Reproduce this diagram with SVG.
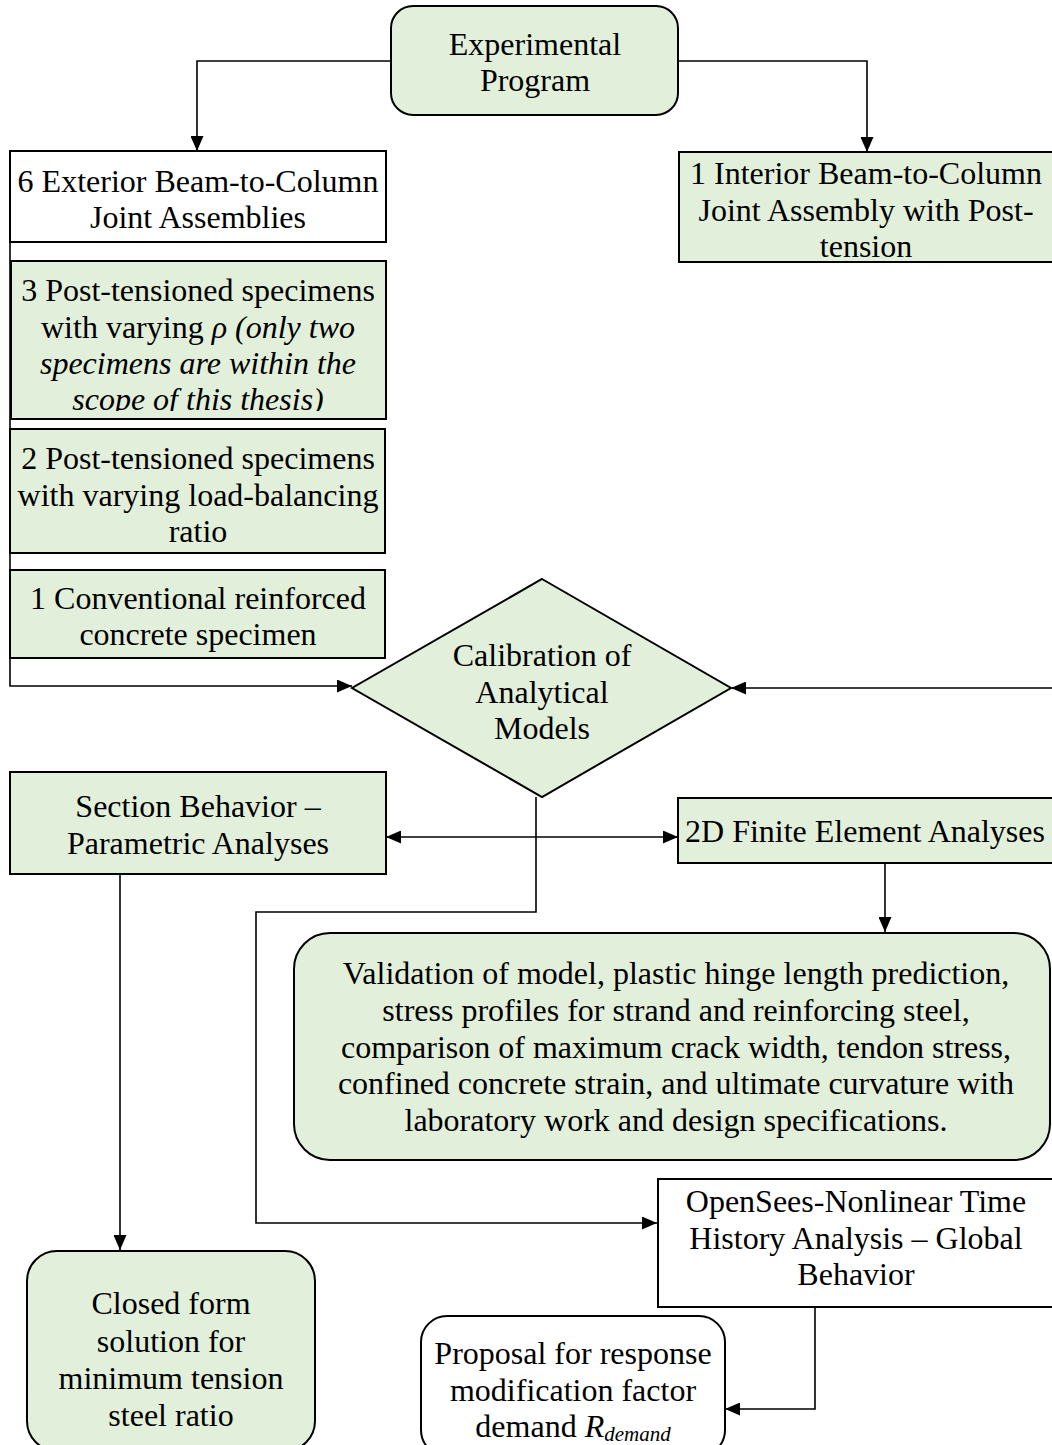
<svg xmlns="http://www.w3.org/2000/svg" width="1052" height="1445" viewBox="0 0 1052 1445" font-family="Liberation Serif, Times New Roman, serif">
<defs>
<style>
.box{fill:#e2efda;stroke:#000;stroke-width:2}
.wbox{fill:#fff;stroke:#000;stroke-width:2}
.t{font-size:32px;fill:#000;text-anchor:middle}
.i{font-style:italic}
.c{fill:none;stroke:#000;stroke-width:1.6}
</style>
<marker id="ah" viewBox="0 0 15 13" refX="15" refY="6.5" markerWidth="15" markerHeight="13" markerUnits="userSpaceOnUse" orient="auto-start-reverse">
<path d="M0,0 L15,6.5 L0,13 Z" fill="#000"/>
</marker>
<clipPath id="clip3"><rect x="10" y="262" width="376" height="149"/></clipPath>
</defs>
<rect width="1052" height="1445" fill="#fff"/>

<g id="connectors">
<path class="c" d="M391,61 H197 V151" marker-end="url(#ah)"/>
<path class="c" d="M678,61 H867 V152" marker-end="url(#ah)"/>
<path class="c" d="M10,242 V686 H352" marker-end="url(#ah)"/>
<path class="c" d="M1052,688 H731" marker-end="url(#ah)"/>
<path class="c" d="M536,797 V912 H256 V1223 H657" marker-end="url(#ah)"/>
<path class="c" d="M386,837 H678" marker-start="url(#ah)" marker-end="url(#ah)"/>
<path class="c" d="M885,863 V932" marker-end="url(#ah)"/>
<path class="c" d="M120,874 V1250" marker-end="url(#ah)"/>
<path class="c" d="M815,1307 V1409 H725" marker-end="url(#ah)"/>
</g>

<g id="experimental-program">
<rect class="box" x="391" y="6" width="287" height="109" rx="22"/>
<text class="t" x="535" y="55">Experimental</text>
<text class="t" x="535" y="91">Program</text>
</g>

<g id="exterior">
<rect class="wbox" x="10" y="151" width="376" height="91"/>
<text class="t" x="198" y="192">6 Exterior Beam-to-Column</text>
<text class="t" x="198" y="228">Joint Assemblies</text>
</g>

<g id="interior">
<rect class="box" x="679" y="152" width="380" height="110"/>
<text class="t" x="866" y="184">1 Interior Beam-to-Column</text>
<text class="t" x="866" y="221">Joint Assembly with Post-</text>
<text class="t" x="866" y="257">tension</text>
</g>

<g id="three-pt">
<rect class="box" x="11" y="261" width="375" height="158"/>
<g clip-path="url(#clip3)">
<text class="t" x="198" y="301">3 Post-tensioned specimens</text>
<text class="t" x="198" y="338">with varying <tspan class="i">ρ (only two</tspan></text>
<text class="t i" x="198" y="374">specimens are within the</text>
<text class="t i" x="198" y="410">scope of this thesis)</text>
</g>
</g>

<g id="two-pt">
<rect class="box" x="10" y="429" width="375" height="124"/>
<text class="t" x="198" y="469">2 Post-tensioned specimens</text>
<text class="t" x="198" y="506">with varying load-balancing</text>
<text class="t" x="198" y="542">ratio</text>
</g>

<g id="conventional">
<rect class="box" x="10" y="570" width="375" height="88"/>
<text class="t" x="198" y="609">1 Conventional reinforced</text>
<text class="t" x="198" y="645">concrete specimen</text>
</g>

<g id="calibration">
<path class="box" d="M542,579 L731,688 L542,797 L352,688 Z"/>
<text class="t" x="542" y="666">Calibration of</text>
<text class="t" x="542" y="703">Analytical</text>
<text class="t" x="542" y="739">Models</text>
</g>

<g id="section-behavior">
<rect class="box" x="10" y="772" width="376" height="102"/>
<text class="t" x="198" y="817">Section Behavior –</text>
<text class="t" x="198" y="854">Parametric Analyses</text>
</g>

<g id="fe-analyses">
<rect class="box" x="678" y="798" width="380" height="65"/>
<text class="t" x="865" y="842">2D Finite Element Analyses</text>
</g>

<g id="validation">
<rect class="box" x="294" y="933" width="756" height="227" rx="36"/>
<text class="t" x="676" y="984">Validation of model, plastic hinge length prediction,</text>
<text class="t" x="676" y="1021">stress profiles for strand and reinforcing steel,</text>
<text class="t" x="676" y="1058">comparison of maximum crack width, tendon stress,</text>
<text class="t" x="676" y="1094">confined concrete strain, and ultimate curvature with</text>
<text class="t" x="676" y="1131">laboratory work and design specifications.</text>
</g>

<g id="opensees">
<rect class="wbox" x="658" y="1179" width="400" height="128"/>
<text class="t" x="856" y="1212">OpenSees-Nonlinear Time</text>
<text class="t" x="856" y="1249">History Analysis – Global</text>
<text class="t" x="856" y="1285">Behavior</text>
</g>

<g id="closed-form">
<rect class="box" x="27" y="1251" width="288" height="200" rx="30"/>
<text class="t" x="171" y="1314">Closed form</text>
<text class="t" x="171" y="1352">solution for</text>
<text class="t" x="171" y="1389">minimum tension</text>
<text class="t" x="171" y="1426">steel ratio</text>
</g>

<g id="proposal">
<rect class="wbox" x="421" y="1316" width="304" height="140" rx="26"/>
<text class="t" x="573" y="1364">Proposal for response</text>
<text class="t" x="573" y="1401">modification factor</text>
<text class="t" x="573" y="1437">demand <tspan class="i">R</tspan><tspan class="i" font-size="21" dy="4">demand</tspan></text>
</g>
</svg>
